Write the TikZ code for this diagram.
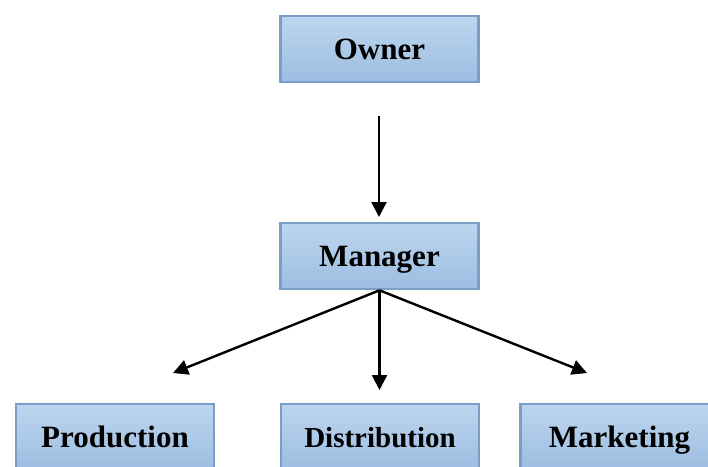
\documentclass[tikz,border=0pt]{standalone}
\usepackage{fontspec}
\setmainfont{Liberation Serif}
\usetikzlibrary{arrows.meta}
\definecolor{boxtop}{HTML}{BDD6EF}
\definecolor{boxbot}{HTML}{9CBDE1}
\definecolor{boxline}{HTML}{7A9FC7}
\tikzset{
  orgbox/.style={draw=boxline, line width=2.6pt, top color=boxtop, bottom color=boxbot,
    minimum width=198pt, minimum height=66pt, inner sep=0pt, text height=22pt, text depth=2pt,
    font=\bfseries\fontsize{31}{34}\selectfont},
  conn/.style={line width=2.4pt, -{Triangle[width=15pt,length=15pt]}}
}
\begin{document}
\begin{tikzpicture}[x=1pt,y=-1pt]
\useasboundingbox (0,0) rectangle (708,466);
\clip (0,0) rectangle (708,466);
\node[orgbox] (owner) at (379.5,49) {Owner};
\node[orgbox] (manager) at (379.5,256) {Manager};
\node[orgbox] (prod) at (115,437) {Production};
\node[orgbox, font=\bfseries\fontsize{29}{32}\selectfont] (dist) at (380,437) {Distribution};
\node[orgbox] (mark) at (619.5,437) {Marketing};
\coordinate (o1) at (379,116);
\coordinate (o2) at (379,217);
\coordinate (p1) at (173,373);
\coordinate (d1) at (379.5,390);
\coordinate (m1) at (587,373);
\draw[conn] (o1) -- (o2);
\draw[conn] (manager.south) -- (p1);
\draw[conn] (manager.south) -- (d1);
\draw[conn] (manager.south) -- (m1);
\end{tikzpicture}
\end{document}
